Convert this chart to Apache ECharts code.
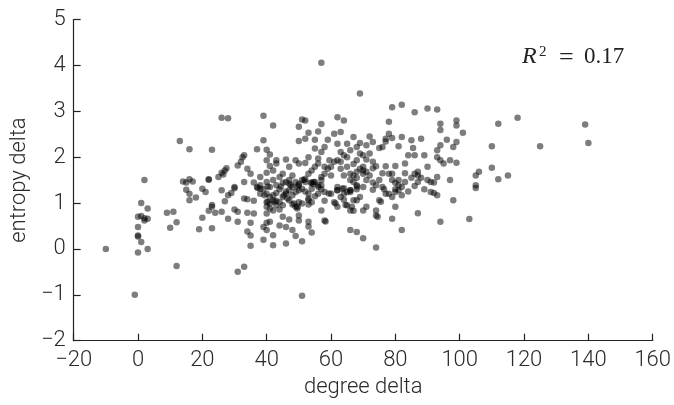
<!DOCTYPE html>
<html><head><meta charset="utf-8">
<script src="https://cdn.jsdelivr.net/npm/echarts@6/dist/echarts.min.js"></script>
<style>html,body{margin:0;padding:0;background:#fff}#c{width:674px;height:405px}</style>
</head><body><div id="c"></div>
<script>
// degree delta (x) and entropy delta (y) for each point
const degreeDelta = [
-10,-1,51,57,69,31,33,12,
2,1,0,1,2,3,3,0,0,0,1,0,3,2,
9,11,10,12,13,16,14,15,16,17,15,16,16,18,19,20,20,21,
22,22,23,23,23,22,24,23,26,28,25,26,27,27.5,26.5,26,27,28,26,28,29,30,30,30,31,31,31,32,33,32.5,34,35,33,33,34,34,36,35,34,35,35,37,38,39,39,40,41,
42,43,43,40,41,38,40,42,44,45,46,47,48,49,50,37,38,39,40,41,42,43,45,46,47,49,50,51,50,
40,41,42,43,45,46,47,48,49,50,51,40,41,42,40,41,43,44,45,47,48,49,49.5,50,51,53,40,42,44,45,47,40,41,44,46,39,40,42,39,42,46,48,49,50,50,51,
50,51,52,50,52,53,52,53,52,52,54,54.5,55,53,54,55,56,53,54,53,54,53,53,54,55,56,57,55,57,58,56,57,57,56,57,58,56,58,57,58,58.3,59,59.5,60,58,58,60,61,62,
61,62,63,64,62,63,64,62,63,65,62,62,63.5,63,64,65,64,65,65,66,67,66,67,68,67,68,66,66,68,68,69,70,68,69,70,70,71,70,71,70,69,67,68,66,67,70,71,66,68,70,
71,72,73,72,73,73,74,74,74,74.5,75,75.5,74,76,77,78,78,76,77,76.5,77,78,79,82,79,82,81,79,80,79,80,81,81,80,81,82,79,78,80,79,82,82,83,83,84,85,85.5,86,86,86,87,87,87,86,87,
88,89,90,90,91,90,93,91,92,93,93,94,93,93,94,94,94,94,96,95,97,97,98,98,99,99,99,99,101,103,105,105,105,106,110,110,112,112,115,118,125,139,140,
51.6,53.7,54.6,56.1,49.6,47.5,44.4,40.3,37.2,39.3,40.3,42.4,48.5,49.6,45.3,46.5,59.3,61.9,64,66,68.1,61.4,64.5,66.5,
63,65,67,69,71,64,66,68,72,74,75,73,60,59,61,76,83,88,85,89,92,84,80,77,75,73,
44,47,48,52,55,57,53,46,43,38,36,36
];
const entropyDelta = [
0,-1,-1.02,4.06,3.39,-0.5,-0.39,-0.37,
1.5,1.0,0.7,0.72,0.67,0.88,0.66,0.48,0.29,0.27,0.15,-0.08,0,0.62,
0.79,0.81,0.46,0.58,2.35,2.17,1.47,1.45,1.52,1.47,1.29,1.2,1.06,1.12,0.43,0.68,1.31,1.24,
1.52,1.51,2.16,0.96,0.92,0.83,0.79,0.45,2.86,2.85,1.57,1.66,1.71,1.76,1.62,1.28,1.04,1.17,0.81,0.66,1.22,1.35,1.32,0.86,0.81,0.59,1.82,1.9,2.04,2.0,1.75,1.64,1.46,1.1,1.08,0.79,0.77,0.57,0.38,0.29,0.07,2.17,1.39,2.9,2.37,2.16,2.06,
2.69,1.93,1.86,1.93,1.81,1.57,1.66,1.71,1.57,1.64,1.95,1.79,1.6,1.93,1.86,1.35,1.31,1.3,1.46,1.35,1.5,1.39,1.44,1.46,1.42,1.46,1.42,1.5,1.39,
1.2,1.13,1.17,1.22,1.13,1.2,1.28,1.17,1.24,1.28,1.31,1.02,0.99,1.06,0.92,0.88,0.95,1.02,0.95,1.06,0.97,0.92,0.88,1.02,0.99,0.97,0.77,0.84,0.86,0.7,0.64,0.57,0.59,0.51,0.48,0.48,0.41,0.3,0.2,0.08,0.12,0.41,0.28,0.62,0.73,0.17,
2.66,2.82,2.8,2.35,2.4,2.53,1.87,2.0,1.53,1.46,1.44,1.41,1.46,1.64,1.71,1.79,1.86,1.2,1.31,1.06,1.02,0.59,0.49,0.36,2.38,2.56,2.72,2.19,2.11,2.22,1.97,1.5,1.57,1.39,1.39,1.24,1.2,1.05,0.84,0.62,0.6,2.38,1.93,1.79,1.79,1.64,1.2,1.02,0.92,
2.51,2.87,2.55,2.8,2.29,2.11,2.04,1.93,1.75,1.79,1.35,1.28,1.31,1.13,1.2,1.24,1.07,0.95,2.29,2.15,2.44,1.64,1.6,1.68,1.46,1.39,1.28,1.24,1.3,1.93,2.08,2.04,2.22,2.31,1.79,1.71,1.68,1.64,1.5,1.35,1.13,1.06,1.06,0.84,0.83,0.84,0.92,0.41,0.37,0.23,
2.26,2.45,2.33,2.08,1.9,1.29,1.39,0.84,0.73,0.7,1.06,1.03,0.03,2.22,2.4,2.51,2.77,1.35,1.2,1.3,1.8,1.64,3.09,3.14,2.42,2.44,2.24,1.64,1.81,1.5,1.44,1.39,1.5,1.24,1.28,1.17,1.13,1.2,0.92,0.66,0.41,1.35,1.46,1.86,2.04,2.37,2.2,2.04,2.98,1.64,1.68,1.6,1.46,1.37,0.78,
2.4,2.04,1.79,1.5,1.46,3.06,3.04,1.24,1.22,2.15,2.0,1.93,1.57,1.17,2.73,2.59,2.26,0.59,2.38,1.86,1.5,1.93,1.06,2.22,2.8,2.69,2.33,1.88,2.53,0.65,1.6,1.39,1.33,1.68,2.24,1.77,2.73,1.52,1.6,2.86,2.24,2.71,2.31,
1.50,1.44,1.46,1.35,1.36,1.39,1.36,1.36,1.33,1.17,1.03,1.03,0.99,0.92,1.17,1.1,1.21,1.28,1.32,1.28,1.36,0.99,0.96,0.92,
1.9,2.0,1.85,1.75,1.95,1.6,1.5,1.55,1.6,1.8,1.5,1.45,1.6,1.75,1.9,1.65,1.65,1.55,1.55,1.3,1.45,1.25,1.3,2.34,2.2,1.76,
1.3,1.5,1.35,1.25,1.15,1.3,1.1,1.25,1.05,1.2,1.45,1.05
];
const xTicks = {min: -20, max: 160, interval: 20};
const yTicks = {min: -2, max: 5, interval: 1};
const annotationParts = {symbol: 'R', power: '2', rest: '=', value: '0.17'};

const points = degreeDelta.map((x, i) => [x, entropyDelta[i]]);
const minus = v => String(v).replace('-', '\u2212');
const font = {color: '#2a2a2a', fontSize: 22, fontFamily: 'Roboto', fontWeight: 300};
const axisLine = {show: true, onZero: false, lineStyle: {color: '#222', width: 1.2}};
const tick = {show: true, inside: true, length: 7, lineStyle: {color: '#222', width: 1.2}};
const serif = 'Liberation Serif';

const chart = echarts.init(document.getElementById('c'), null, {renderer: 'canvas'});
chart.setOption({
  animation: false,
  backgroundColor: '#fff',
  grid: {left: 71, right: 19, top: 19.5, bottom: 64.3, containLabel: false},
  xAxis: {
    type: 'value', min: xTicks.min, max: xTicks.max, interval: xTicks.interval,
    name: 'degree delta', nameLocation: 'middle', nameGap: 29,
    nameTextStyle: font,
    axisLine: axisLine, splitLine: {show: false}, axisTick: tick,
    axisLabel: Object.assign({margin: 9, formatter: minus}, font)
  },
  yAxis: {
    type: 'value', min: yTicks.min, max: yTicks.max, interval: yTicks.interval,
    name: 'entropy delta', nameLocation: 'middle', nameGap: 32,
    nameTextStyle: font,
    axisLine: axisLine, splitLine: {show: false}, axisTick: tick,
    axisLabel: Object.assign({margin: 8, formatter: minus}, font)
  },
  series: [{
    type: 'scatter', data: points, symbolSize: 6.5,
    itemStyle: {color: 'rgba(0,0,0,0.64)'}
  }],
  graphic: [
    {type: 'text', x: 522, y: 57, style: {text: annotationParts.symbol, font: 'italic 24px "' + serif + '"', fill: '#222', verticalAlign: 'middle'}},
    {type: 'text', x: 539, y: 52, style: {text: annotationParts.power, font: '15px "' + serif + '"', fill: '#222', verticalAlign: 'middle'}},
    {type: 'text', x: 559, y: 58, style: {text: annotationParts.rest, font: '26px "' + serif + '"', fill: '#222', verticalAlign: 'middle'}},
    {type: 'text', x: 584, y: 57, style: {text: annotationParts.value, font: '23px "' + serif + '"', fill: '#222', verticalAlign: 'middle'}}
  ]
});
</script>
</body></html>
